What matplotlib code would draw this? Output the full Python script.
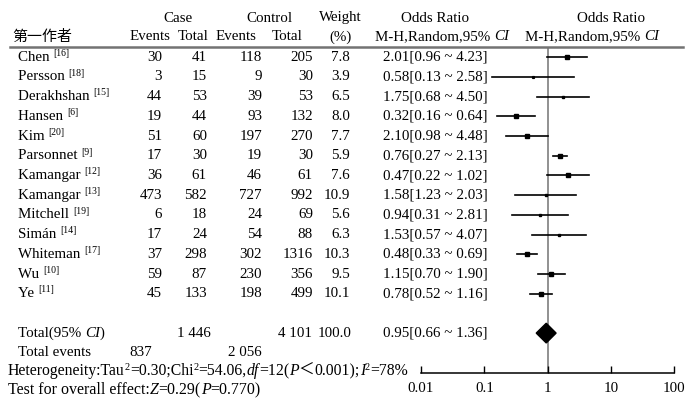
import matplotlib
matplotlib.use("Agg")
import matplotlib.pyplot as plt
from matplotlib.ticker import NullLocator

plt.rcParams['font.family'] = ['Liberation Serif', 'Noto Sans CJK SC', 'DejaVu Sans']
plt.rcParams['font.size'] = 10.8

# study rows
authors = ["Chen", "Persson", "Derakhshan", "Hansen", "Kim", "Parsonnet", "Kamangar",
           "Kamangar", "Mitchell", "Simán", "Whiteman", "Wu", "Ye"]
refs = ["[16]", "[18]", "[15]", "[6]", "[20]", "[9]", "[12]", "[13]", "[19]", "[14]",
        "[17]", "[10]", "[11]"]
case_events = [30, 3, 44, 19, 51, 17, 36, 473, 6, 17, 37, 59, 45]
case_total = [41, 15, 53, 44, 60, 30, 61, 582, 18, 24, 298, 87, 133]
ctrl_events = [118, 9, 39, 93, 197, 19, 46, 727, 24, 54, 302, 230, 198]
ctrl_total = [205, 30, 53, 132, 270, 30, 61, 992, 69, 88, 1316, 356, 499]
weights = [7.8, 3.9, 6.5, 8.0, 7.7, 5.9, 7.6, 10.9, 5.6, 6.3, 10.3, 9.5, 10.1]
or_val = [2.01, 0.58, 1.75, 0.32, 2.10, 0.76, 0.47, 1.58, 0.94, 1.53, 0.48, 1.15, 0.78]
or_lo = [0.96, 0.13, 0.68, 0.16, 0.98, 0.27, 0.22, 1.23, 0.31, 0.57, 0.33, 0.70, 0.52]
or_hi = [4.23, 2.58, 4.50, 0.64, 4.48, 2.13, 1.02, 2.03, 2.81, 4.07, 0.69, 1.90, 1.16]

# what the plot panel actually draws (rows 5-9 differ from the text column)
plot_or = [2.01, 0.58, 1.75, 0.32, 0.47, 1.58, 2.10, 0.94, 0.76, 1.53, 0.48, 1.15, 0.78]
plot_lo = [0.96, 0.13, 0.68, 0.16, 0.22, 1.23, 0.98, 0.31, 0.27, 0.57, 0.33, 0.70, 0.52]
plot_hi = [4.23, 2.58, 4.50, 0.64, 1.02, 2.03, 4.48, 2.81, 2.13, 4.07, 0.69, 1.90, 1.16]
plot_w = [7.8, 3.9, 6.5, 8.0, 7.6, 10.9, 7.7, 5.6, 5.9, 6.3, 10.3, 9.5, 10.1]

# pooled
total_case, total_ctrl, total_w = "1 446", "4 101", "100.0"
events_case, events_ctrl = "837", "2 056"
pooled = (0.95, 0.66, 1.36)
ticks = [0.01, 0.1, 1, 10, 100]
tick_labels = ["0.01", "0.1", "1", "10", "100"]

ROW0, ROW_H = 57.3, 19.7
TOTAL_ROW = 14


def ypix(i):
    return ROW0 + ROW_H * i


fig = plt.figure(figsize=(6.9, 4.11), dpi=100)
ax = fig.add_axes([0, 0, 1, 1])
ax.set_xlim(0, 690)
ax.set_ylim(411, 0)
ax.axis('off')
renderer = fig.canvas.get_renderer()


def chain(x, y, parts, size=10.8):
    for s, kind in parts:
        if kind == 's':
            t = ax.text(x, y - 3.8, s, fontsize=size * 0.65, va='center')
        else:
            t = ax.text(x, y, s, va='center', fontsize=size,
                        fontstyle='italic' if kind == 'i' else 'normal')
        x += t.get_window_extent(renderer).width
    return x


# headers
ax.text(178, 18, "Case", ha='center', va='center')
ax.text(269, 18, "Control", ha='center', va='center')
ax.text(340, 18, "Weight", ha='center', va='center')
ax.text(435, 18, "Odds Ratio", ha='center', va='center')
ax.text(611, 18, "Odds Ratio", ha='center', va='center')
ax.text(12, 37, "第一作者", va='center')
ax.text(150, 37, "Events", ha='center', va='center')
ax.text(193, 37, "Total", ha='center', va='center')
ax.text(236, 37, "Events", ha='center', va='center')
ax.text(287, 37, "Total", ha='center', va='center')
ax.text(341, 37, "(%)", ha='center', va='center')
chain(375, 37, [("M-H,Random,95% ", 'n'), ("CI", 'i')])
chain(525, 37, [("M-H,Random,95% ", 'n'), ("CI", 'i')])
ax.plot([10, 683], [ypix(-0.5), ypix(-0.5)], color='0.45', lw=1.8)

# study text
for i in range(len(authors)):
    y = ypix(i)
    chain(18, y, [(authors[i] + " ", 'n'), (refs[i], 's')])
    ax.text(162, y, str(case_events[i]), ha='right', va='center')
    ax.text(207, y, str(case_total[i]), ha='right', va='center')
    ax.text(262, y, str(ctrl_events[i]), ha='right', va='center')
    ax.text(313, y, str(ctrl_total[i]), ha='right', va='center')
    ax.text(350, y, f"{weights[i]:.1f}", ha='right', va='center')
    ax.text(383, y, f"{or_val[i]:.2f}[{or_lo[i]:.2f} ~ {or_hi[i]:.2f}]", va='center')

# totals
y = ypix(TOTAL_ROW)
chain(18, y, [("Total(95% ", 'n'), ("CI", 'i'), (")", 'n')])
ax.text(211, y, total_case, ha='right', va='center')
ax.text(312, y, total_ctrl, ha='right', va='center')
ax.text(352, y, total_w, ha='right', va='center')
ax.text(383, y, f"{pooled[0]:.2f}[{pooled[1]:.2f} ~ {pooled[2]:.2f}]", va='center')
y = ypix(TOTAL_ROW + 1)
ax.text(18, y, "Total events", va='center')
ax.text(152, y, events_case, ha='right', va='center')
ax.text(262, y, events_ctrl, ha='right', va='center')
chain(8, ypix(TOTAL_ROW + 2) - 1.5,
      [("Heterogeneity:Tau", 'n'), ("2", 's'), ("=0.30;Chi", 'n'), ("2", 's'),
       ("=54.06,", 'n'), ("df", 'i'), ("=12(", 'n'), ("P", 'i'), ("＜", 'n'),
       ("0.001);", 'n'), ("I", 'i'), ("2", 's'), ("=78%", 'n')], size=11.3)
chain(8, ypix(TOTAL_ROW + 3) - 2,
      [("Test for overall effect:", 'n'), ("Z", 'i'), ("=0.29(", 'n'), ("P", 'i'),
       ("=0.770)", 'n')], size=11.5)

# forest panel
x0, x1 = 421, 674.3
top, bottom = ypix(-0.5), ypix(16)
fx = fig.add_axes([x0 / 690, 1 - bottom / 411, (x1 - x0) / 690, (bottom - top) / 411])
fx.patch.set_visible(False)
fx.set_xscale('log')
fx.set_xlim(0.01, 100)
fx.set_ylim(16, -0.5)
for s in ['top', 'left', 'right']:
    fx.spines[s].set_visible(False)
fx.spines['bottom'].set_linewidth(1.1)
fx.set_yticks([])
fx.set_xticks(ticks)
fx.set_xticklabels(tick_labels)
fx.xaxis.set_minor_locator(NullLocator())
fx.tick_params(axis='x', direction='in', length=5, width=1, pad=7, labelsize=10.8)
fx.plot([1, 1], [-0.5, 16], color='0.45', lw=1.1, zorder=1)

for i in range(len(plot_or)):
    fx.plot([plot_lo[i], plot_hi[i]], [i, i], color='black', lw=1.2, zorder=2)
    fx.plot(plot_or[i], i, marker='s', color='black', markersize=plot_w[i] * 0.33,
            zorder=3)

est, lo, hi = pooled
fx.fill([lo, est, hi, est], [TOTAL_ROW, TOTAL_ROW - 0.5, TOTAL_ROW, TOTAL_ROW + 0.5],
        color='black', zorder=3)

fig.savefig("out.png", dpi=100)
plt.close(fig)
